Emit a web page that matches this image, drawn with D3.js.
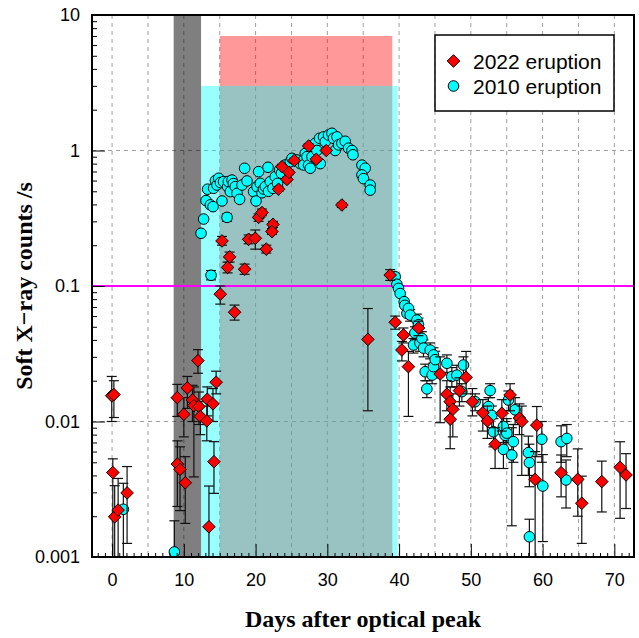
<!DOCTYPE html>
<html>
<head>
<meta charset="utf-8">
<script src="https://cdn.jsdelivr.net/npm/d3@7"></script>
<style>
  html, body { margin: 0; padding: 0; background: #ffffff; }
  svg { display: block; }
  .tick-label { font-family: "Liberation Sans", Arial, Helvetica, sans-serif; font-size: 18px; fill: #000; }
  .title { font-family: "Liberation Serif", "Times New Roman", serif; font-weight: bold; font-size: 24px; fill: #000; }
  .legend-text { font-family: "Liberation Sans", Arial, Helvetica, sans-serif; font-size: 21px; fill: #000; }
</style>
</head>
<body>
<svg id="chart" width="639" height="638"></svg>
<script>
// Soft X-ray light curves: [day after optical peak, counts/s, lower bound, upper bound]
const eruption2022 = [
  [-0.05, 0.0155, 0.0100, 0.0215], [0.25, 0.0158, 0.0107, 0.0200],
  [0.10, 0.0042, 0.0008, 0.0053], [0.36, 0.00198, 0.0008, 0.00336],
  [0.84, 0.00222, 0.0008, 0.0038], [2.09, 0.00297, 0.00126, 0.00465],
  [9.09, 0.0150, 0.0109, 0.0188], [10.49, 0.0177, 0.0125, 0.0215],
  [11.97, 0.0281, 0.0227, 0.0339], [10.00, 0.0113, 0.0077, 0.0150],
  [11.20, 0.0144, 0.0100, 0.0185], [11.40, 0.0131, 0.0039, 0.0180],
  [12.10, 0.0129, 0.0095, 0.0165], [12.30, 0.0109, 0.0080, 0.0140],
  [13.27, 0.0146, 0.0110, 0.0180], [13.20, 0.0101, 0.0072, 0.0130],
  [14.06, 0.0135, 0.0100, 0.0175], [14.50, 0.0195, 0.0160, 0.0235],
  [14.20, 0.00505, 0.00295, 0.0071], [13.50, 0.00167, 0.0008, 0.00334],
  [9.10, 0.00485, 0.00236, 0.0072], [9.47, 0.00443, 0.0022, 0.0065],
  [10.20, 0.00353, 0.00177, 0.0055],
  [15.08, 0.087, 0.0735, 0.100], [17.07, 0.064, 0.056, 0.0723],
  [15.32, 0.215, 0.200, 0.232], [16.38, 0.164, 0.150, 0.178],
  [16.10, 0.137, 0.125, 0.150], [18.47, 0.133, 0.122, 0.145],
  [19.03, 0.221, 0.205, 0.238], [19.96, 0.225, 0.187, 0.259],
  [21.49, 0.187, 0.175, 0.200], [20.42, 0.321, 0.300, 0.340],
  [20.89, 0.348, 0.330, 0.370], [22.42, 0.285, 0.270, 0.300],
  [22.28, 0.252, 0.240, 0.265], [23.20, 0.518, 0.500, 0.540],
  [23.68, 0.759, 0.730, 0.790], [24.37, 0.612, 0.590, 0.635],
  [24.65, 0.690, 0.665, 0.715], [25.39, 0.845, 0.815, 0.875],
  [27.40, 1.08, 1.04, 1.12], [28.45, 0.861, 0.830, 0.890],
  [29.85, 1.00, 0.965, 1.035], [32.03, 0.396, 0.380, 0.410],
  [35.65, 0.0404, 0.0120, 0.0682],
  [38.76, 0.1205, 0.110, 0.132], [39.46, 0.054, 0.048, 0.060],
  [40.61, 0.0435, 0.038, 0.049], [42.70, 0.049, 0.043, 0.055],
  [40.39, 0.0337, 0.028, 0.039], [41.30, 0.0254, 0.0109, 0.0329],
  [45.72, 0.0224, 0.0098, 0.030], [49.34, 0.0212, 0.0160, 0.0329],
  [48.41, 0.0169, 0.0130, 0.0210], [46.66, 0.0159, 0.0120, 0.0200],
  [47.12, 0.0140, 0.0105, 0.0180], [47.49, 0.0123, 0.0077, 0.0160],
  [47.12, 0.0104, 0.0063, 0.0140], [50.22, 0.0140, 0.0110, 0.0175],
  [51.67, 0.0116, 0.0085, 0.0145], [52.31, 0.0101, 0.0075, 0.0130],
  [54.32, 0.0115, 0.0085, 0.0145], [55.47, 0.0157, 0.0120, 0.0190],
  [53.38, 0.0068, 0.0045, 0.0090], [56.77, 0.0106, 0.0080, 0.0135],
  [57.10, 0.0100, 0.0040, 0.0130], [59.19, 0.0094, 0.0055, 0.0129],
  [58.96, 0.00374, 0.0008, 0.0060], [62.58, 0.00419, 0.00278, 0.00566],
  [64.90, 0.00374, 0.0020, 0.00628], [65.46, 0.00249, 0.00126, 0.00395],
  [68.25, 0.00360, 0.00215, 0.0051], [70.80, 0.00459, 0.00193, 0.00709],
  [71.63, 0.00403, 0.00228, 0.00579]
];

// 2010 eruption; rows with only two entries have error bars smaller than the symbol
const eruption2010 = [
  [1.57, 0.00225, 0.0008, 0.0035], [8.68, 0.00109, 0.0006, 0.00185],
  [12.40, 0.245], [12.76, 0.312], [13.09, 0.427], [13.31, 0.518], [13.69, 0.397],
  [14.07, 0.385], [14.15, 0.526], [14.40, 0.600], [14.62, 0.556], [14.85, 0.624],
  [15.10, 0.580], [15.32, 0.424], [15.54, 0.589], [16.02, 0.321, 0.300, 0.340],
  [16.10, 0.541], [16.20, 0.590], [16.48, 0.497], [16.71, 0.605], [16.90, 0.570],
  [17.17, 0.541], [17.41, 0.483], [17.77, 0.436], [18.11, 0.556], [18.47, 0.739],
  [18.80, 0.596], [13.79, 0.120, 0.111, 0.130], [19.72, 0.497], [20.06, 0.424],
  [20.20, 0.540], [20.42, 0.698], [20.65, 0.572], [20.89, 0.488], [21.10, 0.520],
  [21.35, 0.541], [21.73, 0.752], [21.80, 0.500], [22.05, 0.589], [22.42, 0.526],
  [22.74, 0.641], [23.06, 0.572], [23.34, 0.718], [23.60, 0.680], [24.14, 0.782],
  [24.83, 0.826], [25.07, 0.875], [25.77, 0.851], [26.23, 0.800], [26.69, 0.850],
  [26.69, 0.782], [26.92, 0.950], [27.16, 0.900], [27.38, 0.780], [27.62, 0.740],
  [27.86, 0.900], [28.31, 1.13], [28.55, 1.00], [28.91, 1.23], [29.01, 0.80],
  [29.47, 1.26], [29.71, 1.16], [30.17, 1.30], [30.64, 1.34], [30.86, 1.23],
  [31.10, 1.00], [31.34, 1.26], [31.56, 1.10], [32.03, 1.13], [32.49, 1.17],
  [32.95, 1.04], [33.43, 1.00], [33.57, 0.93], [34.82, 0.78], [35.28, 0.74],
  [34.82, 0.66], [35.04, 0.62], [35.97, 0.556], [35.97, 0.51],
  [39.46, 0.117, 0.110, 0.124], [39.69, 0.103], [39.92, 0.096], [40.15, 0.088],
  [40.71, 0.0766], [40.80, 0.072], [41.09, 0.0628], [41.31, 0.0684],
  [41.55, 0.0610, 0.055, 0.067], [42.01, 0.0367, 0.032, 0.041], [42.20, 0.045, 0.040, 0.050],
  [42.48, 0.0561, 0.050, 0.062], [42.70, 0.0518, 0.046, 0.058], [42.90, 0.038, 0.033, 0.043],
  [43.18, 0.0411, 0.036, 0.046], [43.40, 0.0348, 0.030, 0.040], [43.64, 0.0233, 0.020, 0.0265],
  [43.87, 0.0174, 0.015, 0.020], [44.33, 0.0337, 0.029, 0.038], [44.60, 0.022, 0.019, 0.025],
  [44.79, 0.031, 0.027, 0.035], [44.79, 0.0254, 0.021, 0.030], [45.03, 0.0286, 0.024, 0.033],
  [46.66, 0.0269, 0.023, 0.031], [47.35, 0.0215, 0.018, 0.025], [48.05, 0.022, 0.018, 0.026],
  [48.75, 0.0166, 0.014, 0.019], [48.97, 0.0261, 0.022, 0.030], [50.60, 0.0140, 0.012, 0.016],
  [52.45, 0.0129, 0.011, 0.015], [52.69, 0.0169, 0.0150, 0.0190], [52.92, 0.0111, 0.0090, 0.0130],
  [53.15, 0.0084, 0.0065, 0.0105], [54.54, 0.0092, 0.0070, 0.0115], [54.78, 0.0079, 0.0060, 0.0100],
  [54.54, 0.00623, 0.0045, 0.0080], [55.01, 0.0082, 0.0062, 0.0105], [55.24, 0.0144, 0.0120, 0.0168],
  [55.71, 0.00566, 0.0017, 0.0090], [55.93, 0.0071, 0.0050, 0.0095], [56.17, 0.0122, 0.0095, 0.0150],
  [58.02, 0.00589, 0.0040, 0.0078], [58.16, 0.00497, 0.0033, 0.0068], [58.16, 0.00141, 0.0009, 0.0019],
  [59.89, 0.0074, 0.0050, 0.0100], [60.03, 0.00334, 0.0013, 0.0057], [62.58, 0.0071, 0.0050, 0.0093],
  [63.37, 0.0075, 0.0055, 0.0095], [63.27, 0.0037, 0.0023, 0.0052]
];

// Shaded observing windows: [start day, end day, top counts/s]
const pinkWindow = [15.0, 39.05, 7];
const cyanWindow = [12.4, 39.8, 3];
const grayWindow = [8.58, 12.4];
const thresholdRate = 0.1;

const xTicks = [0, 10, 20, 30, 40, 50, 60, 70];
const yTicks = [10, 1, 0.1, 0.01, 0.001];
const yTickText = ["10", "1", "0.1", "0.01", "0.001"];
const legendLabels = ["2022 eruption", "2010 eruption"];

const plot = { left: 92, right: 634, top: 15, bottom: 557 };
const svg = d3.select("#chart");

const x = d3.scaleLinear().domain([-2.8, 72.74]).range([plot.left, plot.right]);
const y = d3.scaleLog().domain([0.001, 10]).range([plot.bottom, plot.top]);

svg.append("defs").append("clipPath").attr("id", "plot-clip")
  .append("rect")
  .attr("x", plot.left).attr("y", plot.top)
  .attr("width", plot.right - plot.left).attr("height", plot.bottom - plot.top);

// dashed grid
const grid = svg.append("g").attr("stroke", "#a0a0a0").attr("stroke-width", 1)
  .attr("stroke-dasharray", "4,4");
d3.range(0, 75, 5).forEach(d => {
  grid.append("line").attr("x1", x(d)).attr("x2", x(d))
    .attr("y1", plot.top).attr("y2", plot.bottom);
});
[1, 0.01].forEach(v => {
  grid.append("line").attr("x1", plot.left).attr("x2", plot.right)
    .attr("y1", y(v)).attr("y2", y(v));
});

// observing windows
const bands = svg.append("g").attr("clip-path", "url(#plot-clip)");
bands.append("rect")
  .attr("x", x(pinkWindow[0])).attr("width", x(pinkWindow[1]) - x(pinkWindow[0]))
  .attr("y", y(pinkWindow[2])).attr("height", plot.bottom - y(pinkWindow[2]))
  .attr("fill", "rgb(255,0,0)").attr("fill-opacity", 0.4);
bands.append("rect")
  .attr("x", x(cyanWindow[0])).attr("width", x(cyanWindow[1]) - x(cyanWindow[0]))
  .attr("y", y(cyanWindow[2])).attr("height", plot.bottom - y(cyanWindow[2]))
  .attr("fill", "rgb(0,255,255)").attr("fill-opacity", 0.4);
bands.append("rect")
  .attr("x", x(grayWindow[0])).attr("width", x(grayWindow[1]) - x(grayWindow[0]))
  .attr("y", plot.top).attr("height", plot.bottom - plot.top)
  .attr("fill", "#000").attr("fill-opacity", 0.5);

// detection threshold
svg.append("line")
  .attr("x1", plot.left).attr("x2", plot.right)
  .attr("y1", y(thresholdRate)).attr("y2", y(thresholdRate))
  .attr("stroke", "#ff00ff").attr("stroke-width", 2);

const marks = svg.append("g").attr("clip-path", "url(#plot-clip)");

function errorBars(rows) {
  const g = marks.append("g").attr("stroke", "#111").attr("stroke-width", 1.2).attr("fill", "none");
  rows.filter(r => r.length > 2).forEach(r => {
    const cx = x(r[0]), y0 = y(Math.max(r[2], 0.0005)), y1 = y(r[3]);
    g.append("line").attr("x1", cx).attr("x2", cx).attr("y1", y0).attr("y2", y1);
    g.append("line").attr("x1", cx - 5).attr("x2", cx + 5).attr("y1", y1).attr("y2", y1);
    if (r[2] >= 0.001) {
      g.append("line").attr("x1", cx - 5).attr("x2", cx + 5).attr("y1", y0).attr("y2", y0);
    }
  });
}

const diamond = "M0,-6.3L6.3,0L0,6.3L-6.3,0Z";

errorBars(eruption2010);
marks.append("g").selectAll("circle").data(eruption2010).join("circle")
  .attr("cx", d => x(d[0])).attr("cy", d => y(d[1])).attr("r", 5.3)
  .attr("fill", "#00ffff").attr("stroke", "#000").attr("stroke-width", 1);

errorBars(eruption2022);
marks.append("g").selectAll("path").data(eruption2022).join("path")
  .attr("d", diamond)
  .attr("transform", d => `translate(${x(d[0])},${y(d[1])})`)
  .attr("fill", "#ff0000").attr("stroke", "#000").attr("stroke-width", 1);

// axes with inward ticks
const xAxis = svg.append("g").attr("transform", `translate(0,${plot.bottom})`)
  .call(d3.axisBottom(x).tickValues(xTicks).tickSize(-13).tickPadding(16).tickFormat(d3.format("d")));
const xMinor = svg.append("g").attr("transform", `translate(0,${plot.bottom})`)
  .call(d3.axisBottom(x).tickValues(d3.range(-2, 73, 1).filter(d => d % 10 !== 0)).tickSize(-4).tickFormat(""));
const yAxis = svg.append("g").attr("transform", `translate(${plot.left},0)`)
  .call(d3.axisLeft(y).tickValues(yTicks).tickSize(-13).tickPadding(12)
    .tickFormat((d, i) => yTickText[i]));
const yMinorVals = [];
[0.001, 0.01, 0.1, 1].forEach(b => d3.range(2, 10).forEach(k => yMinorVals.push(b * k)));
const yMinor = svg.append("g").attr("transform", `translate(${plot.left},0)`)
  .call(d3.axisLeft(y).tickValues(yMinorVals).tickSize(-5).tickFormat(""));

[xAxis, xMinor, yAxis, yMinor].forEach(a => {
  a.select(".domain").remove();
  a.selectAll(".tick line").attr("stroke", "#000").attr("stroke-width", 1);
  a.selectAll(".tick text").attr("class", "tick-label").attr("font-family", null).attr("font-size", null);
});

// frame
svg.append("rect")
  .attr("x", plot.left).attr("y", plot.top)
  .attr("width", plot.right - plot.left).attr("height", plot.bottom - plot.top)
  .attr("fill", "none").attr("stroke", "#000").attr("stroke-width", 2);

// axis titles
svg.append("text").attr("class", "title")
  .attr("x", 363).attr("y", 627).attr("text-anchor", "middle")
  .text("Days after optical peak");
svg.append("text").attr("class", "title")
  .attr("transform", `translate(32,${(plot.top + plot.bottom) / 2}) rotate(-90)`)
  .attr("text-anchor", "middle")
  .text("Soft X\u2212ray counts /s");

// legend
const legend = svg.append("g");
legend.append("rect").attr("x", 435).attr("y", 35).attr("width", 179).attr("height", 76)
  .attr("fill", "#fff").attr("stroke", "#000").attr("stroke-width", 1.5);
legend.append("path").attr("d", diamond).attr("transform", "translate(453.5,61)")
  .attr("fill", "#ff0000").attr("stroke", "#000").attr("stroke-width", 1);
legend.append("circle").attr("cx", 453.5).attr("cy", 86).attr("r", 5.3)
  .attr("fill", "#00ffff").attr("stroke", "#000").attr("stroke-width", 1);
legend.selectAll("text.legend-text").data(legendLabels).join("text")
  .attr("class", "legend-text")
  .attr("x", 473).attr("y", (d, i) => 68.5 + i * 25)
  .text(d => d);
</script>
</body>
</html>
